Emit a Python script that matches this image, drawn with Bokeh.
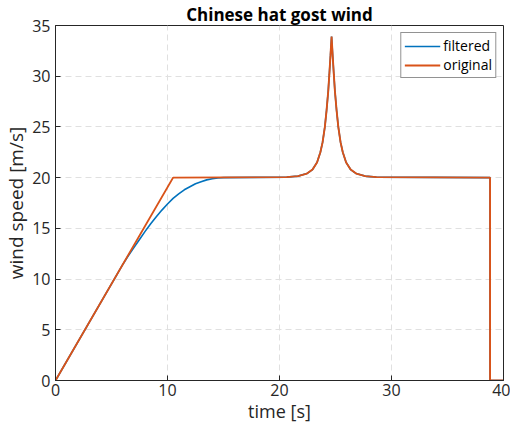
from bokeh.plotting import figure
from bokeh.models import Range1d, Legend, LegendItem, FixedTicker
from bokeh.embed import file_html
from bokeh.resources import INLINE

# original wind: ramp, plateau, "Chinese hat" gust, plateau, cut-off
t_original = [0, 10.5, 20.65, 21.65, 22.45, 22.95, 23.35, 23.65, 23.85, 24.05, 24.2, 24.35,
              24.45, 24.55, 24.65, 24.75, 24.85, 24.95, 25.1, 25.25, 25.45, 25.65, 25.95,
              26.35, 26.85, 27.65, 28.65, 38.8, 38.8, 40]
v_original = [0, 20, 20.05, 20.15, 20.4, 20.8, 21.5, 22.5, 23.5, 25.0, 26.6, 28.5,
              30.2, 32.0, 33.9, 32.0, 30.2, 28.5, 26.6, 25.0, 23.5, 22.5, 21.5,
              20.8, 20.4, 20.15, 20.05, 20, 0, 0]

# filtered wind: smoothed ramp end, otherwise identical
t_filtered = [0, 6.0, 6.5, 7.0, 7.5, 8.0, 8.5, 9.0, 9.5, 10.0, 10.5, 11.0, 11.5, 12.0, 12.5,
              13.0, 13.5, 14.0, 14.5, 15.0, 20.65, 21.65, 22.45, 22.95, 23.35, 23.65, 23.85,
              24.05, 24.2, 24.35, 24.45, 24.55, 24.65, 24.75, 24.85, 24.95, 25.1, 25.25,
              25.45, 25.65, 25.95, 26.35, 26.85, 27.65, 28.65, 38.8, 38.8, 40]
v_filtered = [0, 11.43, 12.3, 13.1, 13.9, 14.7, 15.45, 16.15, 16.8, 17.4, 17.95, 18.4, 18.8, 19.1, 19.4,
              19.6, 19.78, 19.9, 19.97, 20.0, 20.05, 20.15, 20.4, 20.8, 21.5, 22.5, 23.5,
              25.0, 26.6, 28.5, 30.2, 32.0, 33.9, 32.0, 30.2, 28.5, 26.6, 25.0,
              23.5, 22.5, 21.5, 20.8, 20.4, 20.15, 20.05, 20, 0, 0]

x_ticks = [0, 10, 20, 30, 40]
y_ticks = [0, 5, 10, 15, 20, 25, 30, 35]

FONT = "Open Sans"
DARK = "#262626"

p = figure(width=510, height=430, x_range=Range1d(0, 40), y_range=Range1d(0, 35),
           output_backend="svg", toolbar_location=None,
           min_border_left=55, min_border_right=7, min_border_top=25, min_border_bottom=50,
           x_axis_label="time [s]", y_axis_label="wind speed [m/s]")

p.title.text = "Chinese hat gost wind"
p.title.align = "center"
p.title.text_font = FONT
p.title.text_font_size = "17px"
p.title.text_font_style = "bold"
p.title.text_color = "black"
p.title.standoff = 0
p.title.offset = 0

for ax in (p.xaxis[0], p.yaxis[0]):
    ax.major_tick_in = 5
    ax.major_tick_out = 0
    ax.minor_tick_in = 0
    ax.minor_tick_out = 0
    ax.axis_line_color = DARK
    ax.major_tick_line_color = DARK
    ax.major_label_text_font = FONT
    ax.major_label_text_font_size = "16px"
    ax.major_label_text_color = DARK
    ax.axis_label_text_font = FONT
    ax.axis_label_text_font_style = "normal"
    ax.axis_label_text_color = DARK
p.xaxis[0].axis_label_text_font_size = "18px"
p.yaxis[0].axis_label_text_font_size = "19px"
p.xaxis[0].ticker = FixedTicker(ticks=x_ticks)
p.yaxis[0].ticker = FixedTicker(ticks=y_ticks)
p.xaxis[0].major_label_standoff = 3
p.yaxis[0].major_label_standoff = 5
p.xaxis[0].axis_label_standoff = 0
p.yaxis[0].axis_label_standoff = 0

p.outline_line_color = DARK
p.xgrid.ticker = FixedTicker(ticks=x_ticks)
p.ygrid.ticker = FixedTicker(ticks=y_ticks)
for g in (p.xgrid[0], p.ygrid[0]):
    g.grid_line_color = "#e0e0e0"
    g.grid_line_dash = "6 4"
    g.grid_line_width = 1

r_f = p.line(t_filtered, v_filtered, line_color="#0072BD", line_width=1.6)
r_o = p.line(t_original, v_original, line_color="#D95319", line_width=1.9)

legend = Legend(items=[LegendItem(label="filtered", renderers=[r_f]),
                       LegendItem(label="original", renderers=[r_o])],
                location="top_right", label_text_font=FONT, label_text_font_size="14px",
                label_text_color="black", border_line_color=DARK, border_line_width=1,
                glyph_width=36, glyph_height=12, label_standoff=3, spacing=0,
                padding=3, margin=7, background_fill_alpha=1, label_height=12)
p.add_layout(legend)

open("out.html", "w").write(file_html(p, INLINE))
